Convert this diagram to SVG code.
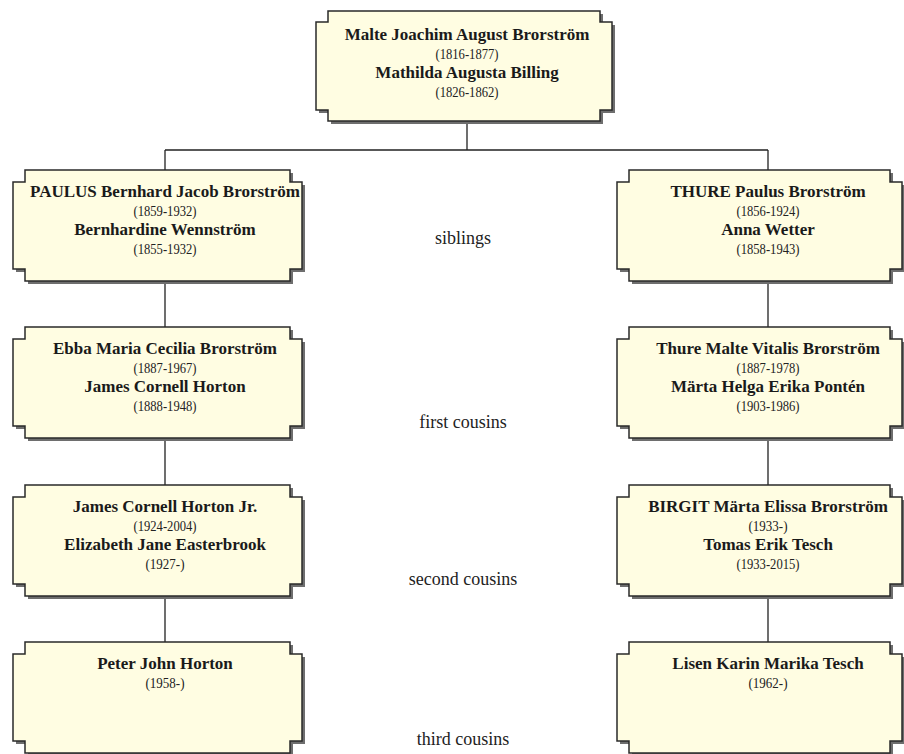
<svg xmlns="http://www.w3.org/2000/svg" width="904" height="754" viewBox="0 0 904 754">
<style>
.box{fill:#fffde2;stroke:#2a2a2a;stroke-width:1.5}
.sh{fill:#6e6e6e}
.n{font-family:"Liberation Serif","Times New Roman",serif;font-weight:bold;font-size:17px;fill:#1a1a1a;text-anchor:middle}
.d{font-family:"Liberation Serif","Times New Roman",serif;font-size:15px;fill:#222;text-anchor:middle}
.l{font-family:"Liberation Serif","Times New Roman",serif;font-size:18px;fill:#222;text-anchor:middle}
.c{fill:none;stroke:#222;stroke-width:1.3}
</style>
<rect width="904" height="754" fill="#ffffff"/>
<g id="connectors">
<path class="c" d="M467,121 V150 M165,150 H768 M165,150 V170 M768,150 V170"/>
<path class="c" d="M165,281 V327 M768,281 V327"/>
<path class="c" d="M165,438 V485 M768,438 V485"/>
<path class="c" d="M165,596 V642 M768,596 V642"/>
</g>
<g id="n0">
<path class="sh" d="M331,14 H603 V25 H615 V113 H603 V124 H331 V113 H319 V25 H331 Z"/>
<path class="box" d="M328,11 H600 V22 H612 V110 H600 V121 H328 V110 H316 V22 H328 Z"/>
<text class="n" x="467" y="40">Malte Joachim August Brorström</text>
<text class="d" x="467" y="59" textLength="63" lengthAdjust="spacingAndGlyphs">(1816-1877)</text>
<text class="n" x="467" y="78">Mathilda Augusta Billing</text>
<text class="d" x="467" y="97" textLength="63" lengthAdjust="spacingAndGlyphs">(1826-1862)</text>
</g>
<g id="n1">
<path class="sh" d="M28,173 H293 V185 H305 V272 H293 V284 H28 V272 H16 V185 H28 Z"/>
<path class="box" d="M25,170 H290 V182 H302 V269 H290 V281 H25 V269 H13 V182 H25 Z"/>
<text class="n" x="165" y="197">PAULUS Bernhard Jacob Brorström</text>
<text class="d" x="165" y="216" textLength="63" lengthAdjust="spacingAndGlyphs">(1859-1932)</text>
<text class="n" x="165" y="235">Bernhardine Wennström</text>
<text class="d" x="165" y="254" textLength="63" lengthAdjust="spacingAndGlyphs">(1855-1932)</text>
</g>
<g id="n2">
<path class="sh" d="M632,173 H893 V185 H905 V272 H893 V284 H632 V272 H620 V185 H632 Z"/>
<path class="box" d="M629,170 H890 V182 H902 V269 H890 V281 H629 V269 H617 V182 H629 Z"/>
<text class="n" x="768" y="197">THURE Paulus Brorström</text>
<text class="d" x="768" y="216" textLength="63" lengthAdjust="spacingAndGlyphs">(1856-1924)</text>
<text class="n" x="768" y="235">Anna Wetter</text>
<text class="d" x="768" y="254" textLength="63" lengthAdjust="spacingAndGlyphs">(1858-1943)</text>
</g>
<g id="n3">
<path class="sh" d="M28,330 H293 V342 H305 V429 H293 V441 H28 V429 H16 V342 H28 Z"/>
<path class="box" d="M25,327 H290 V339 H302 V426 H290 V438 H25 V426 H13 V339 H25 Z"/>
<text class="n" x="165" y="354">Ebba Maria Cecilia Brorström</text>
<text class="d" x="165" y="373" textLength="63" lengthAdjust="spacingAndGlyphs">(1887-1967)</text>
<text class="n" x="165" y="392">James Cornell Horton</text>
<text class="d" x="165" y="411" textLength="63" lengthAdjust="spacingAndGlyphs">(1888-1948)</text>
</g>
<g id="n4">
<path class="sh" d="M632,330 H893 V342 H905 V429 H893 V441 H632 V429 H620 V342 H632 Z"/>
<path class="box" d="M629,327 H890 V339 H902 V426 H890 V438 H629 V426 H617 V339 H629 Z"/>
<text class="n" x="768" y="354">Thure Malte Vitalis Brorström</text>
<text class="d" x="768" y="373" textLength="63" lengthAdjust="spacingAndGlyphs">(1887-1978)</text>
<text class="n" x="768" y="392">Märta Helga Erika Pontén</text>
<text class="d" x="768" y="411" textLength="63" lengthAdjust="spacingAndGlyphs">(1903-1986)</text>
</g>
<g id="n5">
<path class="sh" d="M28,488 H293 V500 H305 V587 H293 V599 H28 V587 H16 V500 H28 Z"/>
<path class="box" d="M25,485 H290 V497 H302 V584 H290 V596 H25 V584 H13 V497 H25 Z"/>
<text class="n" x="165" y="512">James Cornell Horton Jr.</text>
<text class="d" x="165" y="531" textLength="63" lengthAdjust="spacingAndGlyphs">(1924-2004)</text>
<text class="n" x="165" y="550">Elizabeth Jane Easterbrook</text>
<text class="d" x="165" y="569" textLength="39" lengthAdjust="spacingAndGlyphs">(1927-)</text>
</g>
<g id="n6">
<path class="sh" d="M632,488 H893 V500 H905 V587 H893 V599 H632 V587 H620 V500 H632 Z"/>
<path class="box" d="M629,485 H890 V497 H902 V584 H890 V596 H629 V584 H617 V497 H629 Z"/>
<text class="n" x="768" y="512">BIRGIT Märta Elissa Brorström</text>
<text class="d" x="768" y="531" textLength="39" lengthAdjust="spacingAndGlyphs">(1933-)</text>
<text class="n" x="768" y="550">Tomas Erik Tesch</text>
<text class="d" x="768" y="569" textLength="63" lengthAdjust="spacingAndGlyphs">(1933-2015)</text>
</g>
<g id="n7">
<path class="sh" d="M28,645 H293 V657 H305 V744 H293 V756 H28 V744 H16 V657 H28 Z"/>
<path class="box" d="M25,642 H290 V654 H302 V741 H290 V753 H25 V741 H13 V654 H25 Z"/>
<text class="n" x="165" y="669">Peter John Horton</text>
<text class="d" x="165" y="688" textLength="39" lengthAdjust="spacingAndGlyphs">(1958-)</text>
</g>
<g id="n8">
<path class="sh" d="M632,645 H893 V657 H905 V744 H893 V756 H632 V744 H620 V657 H632 Z"/>
<path class="box" d="M629,642 H890 V654 H902 V741 H890 V753 H629 V741 H617 V654 H629 Z"/>
<text class="n" x="768" y="669">Lisen Karin Marika Tesch</text>
<text class="d" x="768" y="688" textLength="39" lengthAdjust="spacingAndGlyphs">(1962-)</text>
</g>
<g id="labels">
<text class="l" x="463" y="244">siblings</text>
<text class="l" x="463" y="428">first cousins</text>
<text class="l" x="463" y="585">second cousins</text>
<text class="l" x="463" y="745">third cousins</text>
</g>
</svg>
